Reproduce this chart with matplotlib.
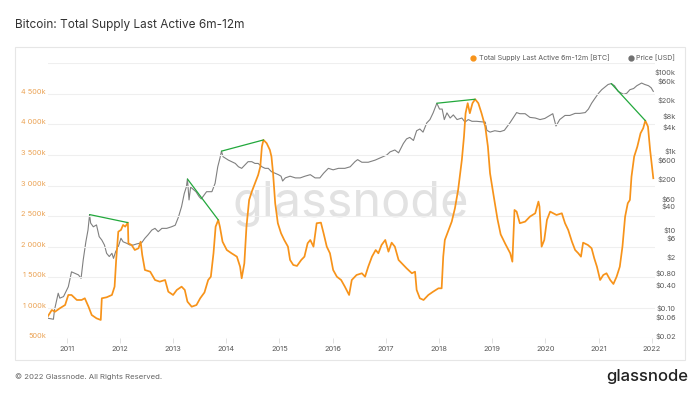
import matplotlib
matplotlib.use('Agg')
import matplotlib.pyplot as plt
from matplotlib.patches import Rectangle, ConnectionPatch
from matplotlib.lines import Line2D

plt.rcParams['font.family'] = ['Inter', 'DejaVu Sans']

# Total supply last active 6m-12m, thousands of BTC (decimal year, value)
supply_year = [
    2010.64, 2010.72, 2010.78, 2010.87, 2010.97, 2011.03, 2011.09, 2011.19, 2011.28, 2011.34,
    2011.41, 2011.47, 2011.56, 2011.64, 2011.66, 2011.75, 2011.85, 2011.90, 2011.93, 2011.97,
    2012.02, 2012.06, 2012.10, 2012.15, 2012.16, 2012.22, 2012.28, 2012.35, 2012.39, 2012.42,
    2012.47, 2012.57, 2012.66, 2012.75, 2012.85, 2012.91, 2013.00, 2013.07, 2013.16, 2013.22,
    2013.27, 2013.35, 2013.44, 2013.51, 2013.59, 2013.66, 2013.71, 2013.76, 2013.80, 2013.85,
    2013.88, 2013.93, 2014.01, 2014.10, 2014.20, 2014.26, 2014.29, 2014.34, 2014.38, 2014.43,
    2014.48, 2014.54, 2014.60, 2014.64, 2014.67, 2014.70, 2014.76, 2014.82, 2014.85, 2014.88,
    2014.92, 2014.97, 2015.03, 2015.09, 2015.16, 2015.20, 2015.26, 2015.33, 2015.41, 2015.47,
    2015.53, 2015.58, 2015.64, 2015.70, 2015.78, 2015.83, 2015.89, 2015.95, 2016.01, 2016.08,
    2016.16, 2016.23, 2016.31, 2016.36, 2016.45, 2016.55, 2016.61, 2016.67, 2016.74, 2016.81,
    2016.86, 2016.92, 2016.99, 2017.05, 2017.11, 2017.17, 2017.24, 2017.30, 2017.39, 2017.49,
    2017.55, 2017.58, 2017.64, 2017.71, 2017.80, 2017.89, 2017.99, 2018.05, 2018.08, 2018.11,
    2018.18, 2018.24, 2018.30, 2018.36, 2018.43, 2018.47, 2018.50, 2018.54, 2018.58, 2018.63,
    2018.68, 2018.74, 2018.80, 2018.87, 2018.92, 2018.96, 2019.02, 2019.10, 2019.16, 2019.25,
    2019.34, 2019.38, 2019.42, 2019.46, 2019.52, 2019.62, 2019.71, 2019.81, 2019.87, 2019.89,
    2019.93, 2019.98, 2020.03, 2020.09, 2020.15, 2020.21, 2020.31, 2020.37, 2020.43, 2020.50,
    2020.56, 2020.62, 2020.67, 2020.71, 2020.80, 2020.87, 2020.92, 2020.97, 2021.03, 2021.09,
    2021.15, 2021.22, 2021.28, 2021.34, 2021.40, 2021.45, 2021.50, 2021.55, 2021.59, 2021.62,
    2021.67, 2021.73, 2021.79, 2021.84, 2021.88, 2021.93, 2021.97, 2022.03,
]
supply_k = [
    853, 963, 935, 991, 1045, 1209, 1209, 1127, 1127, 1155,
    1017, 881, 827, 800, 1155, 1171, 1209, 1345, 1782, 2245,
    2273, 2355, 2327, 2393, 2055, 2027, 1945, 1973, 2081, 1864,
    1618, 1590, 1454, 1427, 1454, 1263, 1209, 1291, 1345, 1291,
    1100, 1017, 1045, 1155, 1250, 1454, 1508, 1891, 2327, 2437,
    2327, 2081, 1945, 1891, 1836, 1672, 1482, 1727, 2327, 2764,
    2900, 3037, 3173, 3309, 3637, 3746, 3692, 3582, 3473, 3201,
    2710, 2383, 2219, 2109, 2000, 1782, 1700, 1684, 1782, 1836,
    2055, 2109, 2000, 2383, 2393, 2219, 2000, 1891, 1618, 1508,
    1454, 1345, 1209, 1454, 1536, 1564, 1508, 1672, 1836, 1945,
    1891, 2027, 2109, 1918, 2065, 2000, 1782, 1727, 1646, 1564,
    1590, 1291, 1155, 1127, 1209, 1263, 1318, 1318, 1836, 2109,
    2273, 2409, 2628, 2928, 3419, 3800, 4183, 4347, 4183, 4347,
    4412, 4347, 4183, 3964, 3637, 3201, 2874, 2450, 2200, 2040,
    1891, 1754, 2600, 2573, 2383, 2409, 2491, 2546, 2737, 2655,
    2000, 2109, 2437, 2573, 2546, 2518, 2546, 2383, 2273, 2081,
    1945, 1891, 1836, 2065, 2027, 1973, 1809, 1672, 1454, 1536,
    1564, 1454, 1389, 1508, 1672, 2000, 2491, 2710, 2764, 3146,
    3473, 3637, 3855, 3937, 4062, 3964, 3582, 3119,
]

# BTC price, USD (decimal year, value)
price_year = [
    2010.64, 2010.75, 2010.77, 2010.84, 2010.87, 2010.94, 2011.00, 2011.03, 2011.09, 2011.15,
    2011.22, 2011.27, 2011.31, 2011.36, 2011.40, 2011.43, 2011.45, 2011.50, 2011.56, 2011.61,
    2011.66, 2011.71, 2011.75, 2011.80, 2011.85, 2011.88, 2011.92, 2011.97, 2012.02, 2012.06,
    2012.13, 2012.19, 2012.25, 2012.31, 2012.41, 2012.47, 2012.53, 2012.60, 2012.66, 2012.72,
    2012.79, 2012.88, 2012.97, 2013.04, 2013.10, 2013.16, 2013.21, 2013.25, 2013.27, 2013.30,
    2013.33, 2013.43, 2013.49, 2013.53, 2013.63, 2013.73, 2013.79, 2013.84, 2013.88, 2013.91,
    2013.94, 2013.99, 2014.04, 2014.10, 2014.17, 2014.23, 2014.29, 2014.35, 2014.41, 2014.48,
    2014.54, 2014.60, 2014.67, 2014.73, 2014.79, 2014.85, 2014.92, 2014.98, 2015.03, 2015.06,
    2015.11, 2015.20, 2015.30, 2015.39, 2015.48, 2015.58, 2015.67, 2015.76, 2015.83, 2015.92,
    2016.01, 2016.11, 2016.23, 2016.33, 2016.42, 2016.47, 2016.55, 2016.67, 2016.80, 2016.92,
    2017.02, 2017.08, 2017.17, 2017.24, 2017.33, 2017.39, 2017.45, 2017.52, 2017.58, 2017.64,
    2017.70, 2017.77, 2017.83, 2017.89, 2017.96, 2018.01, 2018.06, 2018.10, 2018.15, 2018.21,
    2018.27, 2018.34, 2018.43, 2018.49, 2018.55, 2018.62, 2018.71, 2018.80, 2018.87, 2018.90,
    2018.96, 2019.05, 2019.15, 2019.23, 2019.27, 2019.34, 2019.40, 2019.46, 2019.52, 2019.62,
    2019.71, 2019.81, 2019.90, 2019.99, 2020.09, 2020.14, 2020.20, 2020.27, 2020.37, 2020.46,
    2020.56, 2020.65, 2020.75, 2020.81, 2020.87, 2020.93, 2021.00, 2021.06, 2021.13, 2021.18,
    2021.24, 2021.30, 2021.37, 2021.47, 2021.53, 2021.59, 2021.66, 2021.72, 2021.81, 2021.87,
    2021.94, 2021.99, 2022.03,
]
price_usd = [
    0.065, 0.061, 0.105, 0.28, 0.21, 0.23, 0.34, 0.41, 0.98, 0.90,
    0.82, 0.67, 1.96, 5.7, 11.3, 28, 17, 13.7, 15.3, 7.7,
    6.3, 4.7, 2.9, 2.4, 2.9, 2.16, 3.2, 4.3, 7.0, 5.7,
    5.2, 4.7, 4.7, 5.0, 5.4, 7.0, 8.6, 11.3, 12.5, 10.3,
    12.5, 12.5, 13.7, 15, 24, 45, 96, 142, 225, 66,
    140, 107, 80, 70, 107, 107, 175, 460, 750, 1150,
    830, 750, 680, 620, 560, 460, 420, 510, 620, 620,
    560, 560, 460, 420, 420, 345, 315, 290, 265, 200,
    240, 265, 240, 240, 265, 290, 240, 240, 315, 420,
    385, 420, 420, 460, 620, 700, 600, 600, 680, 800,
    920, 1100, 1230, 1040, 1800, 2350, 2570, 2150, 3800, 4200,
    3500, 6000, 7300, 10800, 19000, 13500, 13500, 7300, 10800, 8000,
    9600, 7300, 8000, 6300, 7300, 6600, 6600, 6400, 6300, 3900,
    3500, 3800, 3600, 3900, 4600, 6200, 8300, 11000, 10300, 10300,
    8300, 8000, 7300, 7800, 9400, 10300, 5000, 7300, 9300, 9300,
    10500, 10500, 11000, 13500, 19000, 25000, 34000, 42000, 50000, 57000,
    60000, 53000, 38000, 32000, 34000, 42000, 45000, 53000, 62000, 57000,
    53000, 47000, 38000,
]

# green divergence lines: price top -> supply top
div_price_year = [2011.43, 2013.27, 2013.91, 2017.96, 2021.24]
div_price_usd = [28, 225, 1150, 19000, 60000]
div_supply_year = [2012.15, 2013.85, 2014.70, 2018.68, 2021.88]
div_supply_k = [2393, 2437, 3746, 4412, 4062]

years = list(range(2011, 2023))
supply_ticks = [500, 1000, 1500, 2000, 2500, 3000, 3500, 4000, 4500, 5000]
supply_labels = ['500k', '1 000k', '1 500k', '2 000k', '2 500k', '3 000k',
                 '3 500k', '4 000k', '4 500k', '']
price_ticks = [0.02, 0.06, 0.10, 0.40, 0.80, 2, 6, 10, 40, 60, 200, 600,
               1000, 4000, 8000, 20000, 60000, 100000]
price_labels = ['$0.02', '$0.06', '$0.10', '$0.40', '$0.80', '$2', '$6', '$10',
                '$40', '$60', '$200', '$600', '$1k', '$4k', '$8k', '$20k',
                '$60k', '$100k']

ORANGE = '#f7931a'
GRAY = '#808080'
GREEN = '#22a83c'
TXT = '#5a5a5a'

W, H = 700, 393
fig = plt.figure(figsize=(7, 3.93), dpi=100)
fig.subplots_adjust(left=48 / W, right=655 / W, bottom=1 - 338.3 / H, top=1 - 63.3 / H)
ax = fig.add_subplot(111)
ax2 = ax.twinx()
ax.set_zorder(ax2.get_zorder() + 1)
ax.patch.set_visible(False)

# price line (right log axis)
ax2.plot(price_year, price_usd, color=GRAY, lw=0.8)
ax2.set_yscale('log')
ax2.set_ylim(0.02, 197000)
ax2.set_yticks(price_ticks)
ax2.set_yticklabels(price_labels)
ax2.minorticks_off()
ax2.tick_params(axis='y', length=0, pad=15, labelsize=5.3, labelcolor=TXT)
for lbl in ax2.get_yticklabels():
    lbl.set_horizontalalignment('right')
    lbl.set_verticalalignment('baseline')

# supply line (left axis)
ax.plot(supply_year, supply_k, color=ORANGE, lw=1.25)
ax.set_ylim(500, 5000)
ax.set_yticks(supply_ticks)
ax.set_yticklabels(supply_labels)
ax.tick_params(axis='y', length=0, pad=1.5, labelsize=5.3, labelcolor='#eba355')
for lbl in ax.get_yticklabels():
    lbl.set_verticalalignment('baseline')
ax.grid(axis='y', color='#efefef', lw=0.8)
ax.set_axisbelow(True)

ax.set_xlim(2010.648, 2022.062)
ax.set_xticks(years)
ax.set_xticklabels([str(y) for y in years])
ax.tick_params(axis='x', length=3.5, width=0.6, color='#dddddd', pad=2,
               labelsize=5.4, labelcolor=TXT)

for a in (ax, ax2):
    for s in a.spines.values():
        s.set_visible(False)

# divergence lines
for xp, p, xs, s in zip(div_price_year, div_price_usd, div_supply_year, div_supply_k):
    con = ConnectionPatch(xyA=(xp, p), coordsA=ax2.transData,
                          xyB=(xs, s), coordsB=ax.transData,
                          color=GREEN, lw=0.9, zorder=5)
    ax.add_artist(con)

# outer frame
fig.patches.append(Rectangle((15 / W, 1 - 360 / H), 670 / W, 313 / H,
                             transform=fig.transFigure, fill=False,
                             edgecolor='#e6e6e6', lw=0.8))

# watermark
fig.text(351 / W, 1 - 216.7 / H, 'glassnode', ha='center', va='baseline',
         fontsize=35, color='#e2e2e2', zorder=0)

# title and footer
fig.text(15 / W, 1 - 25 / H, 'Bitcoin: Total Supply Last Active 6m-12m',
         ha='left', va='center', fontsize=8.5, color='#333333')
fig.text(15 / W, 1 - 377 / H, '\u00a9 2022 Glassnode. All Rights Reserved.',
         ha='left', va='center', fontsize=5.6, color='#666666')
fig.text(688 / W, 1 - 376 / H, 'glassnode', ha='right', va='center',
         fontsize=12, color='#222222', fontweight='medium')

# legend
ly = 1 - 57.7 / H
fig.add_artist(Line2D([473 / W], [ly], marker='o', ms=3.5, color=ORANGE,
                      transform=fig.transFigure))
fig.text(479 / W, ly, 'Total Supply Last Active 6m-12m [BTC]', ha='left',
         va='center', fontsize=5.1, color=TXT)
fig.add_artist(Line2D([631 / W], [ly], marker='o', ms=3.5, color='#707070',
                      transform=fig.transFigure))
fig.text(636 / W, ly, 'Price [USD]', ha='left', va='center', fontsize=5.1,
         color=TXT)

fig.savefig('out.png', dpi=100)
